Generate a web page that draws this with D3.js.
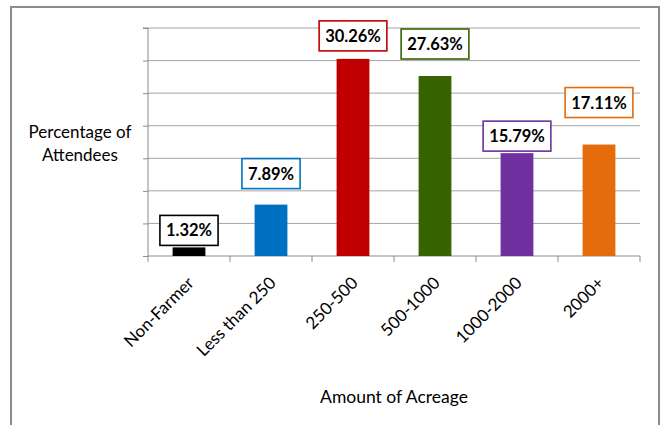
<!DOCTYPE html>
<html>
<head>
<meta charset="utf-8">
<script src="https://cdn.jsdelivr.net/npm/d3@7"></script>
<style>
  body { margin: 0; background: #fff; }
  text { font-family: Lato, "Open Sans", sans-serif; fill: #000; }
</style>
</head>
<body>
<script>
const width = 661;
const height = 425;

// data
const categories = ["Non-Farmer", "Less than 250", "250-500", "500-1000", "1000-2000", "2000+"];
const percents = [1.32, 7.89, 30.26, 27.63, 15.79, 17.11];
const valueLabels = ["1.32%", "7.89%", "30.26%", "27.63%", "15.79%", "17.11%"];
const yTicks = [0, 5, 10, 15, 20, 25, 30, 35];

// look
const colors = ["#000000", "#0070c0", "#c00000", "#376400", "#7030a0", "#e46c0a"];
const labelLift = [1, 15, 7, 16, 1, 26]; // px gap between bar top and its label box

const margin = { top: 28, right: 21, bottom: 169, left: 148 };

const svg = d3.select("body")
  .append("svg")
  .attr("width", width)
  .attr("height", height);

// outer frame (bottom edge runs off the picture)
svg.append("rect")
  .attr("x", 11)
  .attr("y", 7)
  .attr("width", 648)
  .attr("height", 440)
  .attr("fill", "none")
  .attr("stroke", "#8c8c8c")
  .attr("stroke-width", 2);

const xScale = d3.scaleBand()
  .domain(categories)
  .range([margin.left, width - margin.right])
  .paddingInner(0.6)
  .paddingOuter(0.3);

const yScale = d3.scaleLinear()
  .domain([0, 35])
  .range([height - margin.bottom, margin.top]);

const x0 = margin.left;
const x1 = width - margin.right;
const yBase = yScale(0);

// gridlines
svg.append("g")
  .selectAll("line")
  .data(yTicks.slice(1))
  .enter()
  .append("line")
  .attr("x1", x0)
  .attr("x2", x1)
  .attr("y1", d => yScale(d))
  .attr("y2", d => yScale(d))
  .attr("stroke", "#a6a6a6")
  .attr("stroke-width", 1);

// y axis, ticks only
const yAxis = svg.append("g")
  .attr("transform", `translate(${x0},0)`)
  .call(d3.axisLeft(yScale).tickValues(yTicks).tickSize(5).tickFormat(""));
yAxis.select(".domain").attr("stroke", "#8c8c8c").attr("d", `M-5,${yScale(35)}H0V${yBase}`);
yAxis.selectAll(".tick line").attr("stroke", "#8c8c8c");

// x axis with ticks at category boundaries
const step = xScale.step();
const boundaries = d3.range(categories.length + 1).map(i => x0 + i * step);
svg.append("line")
  .attr("x1", x0).attr("x2", x1)
  .attr("y1", yBase).attr("y2", yBase)
  .attr("stroke", "#8c8c8c");
svg.append("g")
  .selectAll("line")
  .data(boundaries)
  .enter()
  .append("line")
  .attr("x1", d => d).attr("x2", d => d)
  .attr("y1", yBase).attr("y2", yBase + 6)
  .attr("stroke", "#8c8c8c");

// bars
svg.append("g")
  .selectAll("rect")
  .data(percents)
  .enter()
  .append("rect")
  .attr("x", (d, i) => xScale(categories[i]))
  .attr("y", d => yScale(d))
  .attr("width", xScale.bandwidth())
  .attr("height", d => yBase - yScale(d))
  .attr("fill", (d, i) => colors[i]);

// value labels in coloured boxes
const labels = svg.append("g")
  .selectAll("g")
  .data(percents)
  .enter()
  .append("g")
  .attr("transform", (d, i) => {
    const cx = xScale(categories[i]) + xScale.bandwidth() / 2;
    return `translate(${cx},${yScale(d) - labelLift[i]})`;
  });

labels.append("text")
  .attr("text-anchor", "middle")
  .attr("y", -10)
  .attr("font-size", 16.5)
  .attr("font-weight", "bold")
  .text((d, i) => valueLabels[i]);

labels.each(function(d, i) {
  const g = d3.select(this);
  const w = g.select("text").node().getComputedTextLength() + 12;
  g.insert("rect", "text")
    .attr("x", -w / 2)
    .attr("y", -31)
    .attr("width", w)
    .attr("height", 30)
    .attr("fill", "#fff")
    .attr("stroke", colors[i])
    .attr("stroke-width", 1.6);
});

// rotated category labels
svg.append("g")
  .selectAll("text")
  .data(categories)
  .enter()
  .append("text")
  .attr("text-anchor", "end")
  .attr("font-size", 17)
  .attr("transform", d => `translate(${xScale(d) + xScale.bandwidth() / 2 + 6},${yBase + 28}) rotate(-45)`)
  .text(d => d);

// axis titles
svg.append("text")
  .attr("x", 80)
  .attr("y", 138)
  .attr("text-anchor", "middle")
  .attr("font-size", 17)
  .text("Percentage of");
svg.append("text")
  .attr("x", 80)
  .attr("y", 161)
  .attr("text-anchor", "middle")
  .attr("font-size", 17)
  .text("Attendees");

svg.append("text")
  .attr("x", 394)
  .attr("y", 403)
  .attr("text-anchor", "middle")
  .attr("font-size", 17.5)
  .text("Amount of Acreage");
</script>
</body>
</html>
